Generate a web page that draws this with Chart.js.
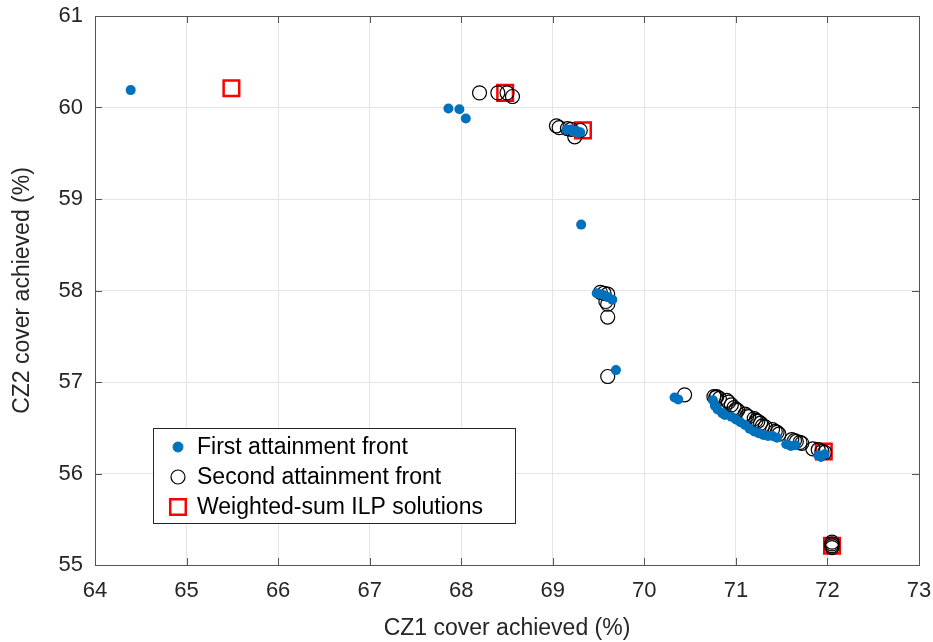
<!DOCTYPE html>
<html>
<head>
<meta charset="utf-8">
<script src="https://cdn.jsdelivr.net/npm/chart.js@4.4.1/dist/chart.umd.min.js"></script>
<style>
  html, body { margin: 0; padding: 0; background: #fff; }
  #wrap { width: 933px; height: 642px; }
</style>
</head>
<body>
<div id="wrap"><canvas id="c" width="933" height="642"></canvas></div>
<script>
// CZ1 / CZ2 cover (%) of each solution set
const firstFrontX = [64.39, 67.86, 67.98, 68.05, 69.15, 69.2, 69.22, 69.25, 69.28, 69.3, 69.31,
  69.48, 69.52, 69.55, 69.6, 69.65, 69.69, 70.33, 70.37,
  70.75, 70.77, 70.8, 70.85, 70.88, 70.95, 71.0, 71.05, 71.1, 71.15, 71.2, 71.25, 71.3, 71.35,
  71.4, 71.45, 71.55, 71.6, 71.65, 71.9, 71.93, 71.97];
const firstFrontY = [60.19, 59.99, 59.98, 59.88, 59.76, 59.76, 59.74, 59.75, 59.72, 59.73, 58.72,
  57.97, 57.96, 57.95, 57.93, 57.9, 57.13, 56.83, 56.81,
  56.8, 56.74, 56.7, 56.66, 56.64, 56.62, 56.59, 56.56, 56.53, 56.49, 56.46, 56.44, 56.42, 56.41,
  56.41, 56.39, 56.32, 56.3, 56.31, 56.2, 56.18, 56.21];

const secondFrontX = [68.2, 68.4, 68.5, 68.56, 69.04, 69.07, 69.16, 69.2, 69.24, 69.3,
  69.52, 69.56, 69.6, 69.58, 69.6, 69.6, 69.6, 70.44,
  70.76, 70.78, 70.79, 70.82, 70.9, 70.92, 70.95, 70.98, 71.0, 71.02, 71.1, 71.12, 71.14,
  71.2, 71.22, 71.24, 71.27, 71.29, 71.32, 71.4, 71.43, 71.45, 71.47,
  71.61, 71.64, 71.66, 71.7, 71.72, 71.84, 71.9, 71.94, 71.97,
  72.05, 72.05, 72.05, 72.05];
const secondFrontY = [60.16, 60.16, 60.16, 60.12, 59.8, 59.78, 59.77, 59.76, 59.68, 59.75,
  57.98, 57.97, 57.96, 57.88, 57.85, 57.71, 57.06, 56.86,
  56.84, 56.83, 56.84, 56.82, 56.8, 56.78, 56.75, 56.72, 56.7, 56.69, 56.65, 56.63, 56.62,
  56.6, 56.58, 56.57, 56.55, 56.52, 56.51, 56.48, 56.46, 56.45, 56.43,
  56.37, 56.36, 56.35, 56.34, 56.33, 56.27, 56.26, 56.24, 56.23,
  55.25, 55.23, 55.21, 55.19];

const ilpX = [65.49, 68.48, 69.33, 71.96, 72.05];
const ilpY = [60.21, 60.16, 59.75, 56.24, 55.21];

const xTicks = [64, 65, 66, 67, 68, 69, 70, 71, 72, 73];
const yTicks = [55, 56, 57, 58, 59, 60, 61];

const legendLabels = ['First attainment front', 'Second attainment front', 'Weighted-sum ILP solutions'];

const toPoints = (xs, ys) => xs.map((x, i) => ({ x: x, y: ys[i] }));

const FONT = '"Liberation Sans", Arial, Helvetica, sans-serif';
const TEXT = '#262626';
const AXIS = '#555555';

// box around the axes, inward ticks and the legend panel
const framePlugin = {
  id: 'frame',
  afterDatasetsDraw(chart) {
    const { ctx, chartArea: a, scales } = chart;
    ctx.save();
    ctx.strokeStyle = AXIS;
    ctx.lineWidth = 1;
    ctx.strokeRect(Math.round(a.left) + 0.5, Math.round(a.top) + 0.5,
      Math.round(a.right - a.left), Math.round(a.bottom - a.top));
    const tl = 7;
    ctx.beginPath();
    xTicks.forEach(v => {
      const px = Math.round(scales.x.getPixelForValue(v)) + 0.5;
      ctx.moveTo(px, a.bottom); ctx.lineTo(px, a.bottom - tl);
      ctx.moveTo(px, a.top); ctx.lineTo(px, a.top + tl);
    });
    yTicks.forEach(v => {
      const py = Math.round(scales.y.getPixelForValue(v)) + 0.5;
      ctx.moveTo(a.left, py); ctx.lineTo(a.left + tl, py);
      ctx.moveTo(a.right, py); ctx.lineTo(a.right - tl, py);
    });
    ctx.stroke();

    // legend panel
    const lx = 153.5, ly = 428.5, lw = 362, lh = 95;
    ctx.fillStyle = '#ffffff';
    ctx.fillRect(lx, ly, lw, lh);
    ctx.strokeStyle = TEXT;
    ctx.strokeRect(lx, ly, lw, lh);
    const rows = [447, 477, 507];
    const mx = 178;
    chart.data.datasets.forEach((ds, i) => {
      const cy = rows[i];
      ctx.beginPath();
      if (ds.pointStyle === 'rect') {
        const s = ds.pointRadius * Math.SQRT1_2;
        ctx.rect(mx - s, cy - s, 2 * s, 2 * s);
      } else {
        ctx.arc(mx, cy, ds.pointRadius, 0, Math.PI * 2);
      }
      if (ds.backgroundColor !== 'rgba(0,0,0,0)') {
        ctx.fillStyle = ds.backgroundColor;
        ctx.fill();
      }
      ctx.lineWidth = ds.borderWidth;
      ctx.strokeStyle = ds.borderColor;
      ctx.stroke();
      ctx.fillStyle = '#000000';
      ctx.font = '23px ' + FONT;
      ctx.textBaseline = 'middle';
      ctx.textAlign = 'left';
      ctx.fillText(legendLabels[i], 197, cy + 1);
    });
    ctx.restore();
  }
};

new Chart(document.getElementById('c'), {
  type: 'scatter',
  data: {
    datasets: [
      {
        label: legendLabels[0],
        data: toPoints(firstFrontX, firstFrontY),
        pointStyle: 'circle',
        pointRadius: 5,
        backgroundColor: '#0072BD',
        borderColor: '#0072BD',
        borderWidth: 0
      },
      {
        label: legendLabels[1],
        data: toPoints(secondFrontX, secondFrontY),
        pointStyle: 'circle',
        pointRadius: 7,
        backgroundColor: 'rgba(0,0,0,0)',
        borderColor: '#000000',
        borderWidth: 1.2
      },
      {
        label: legendLabels[2],
        data: toPoints(ilpX, ilpY),
        pointStyle: 'rect',
        pointRadius: 11,
        backgroundColor: 'rgba(0,0,0,0)',
        borderColor: '#FF0000',
        borderWidth: 2.5
      }
    ]
  },
  options: {
    responsive: false,
    animation: false,
    events: [],
    layout: { padding: { top: 16, right: 14, left: 0, bottom: 0 } },
    plugins: {
      legend: { display: false },
      tooltip: { enabled: false }
    },
    scales: {
      x: {
        type: 'linear',
        min: 64, max: 73,
        afterBuildTicks: s => { s.ticks = xTicks.map(v => ({ value: v })); },
        afterFit: s => { s.height = 77; s.paddingLeft = 0; s.paddingRight = 0; },
        grid: { color: '#e5e5e5', drawTicks: false, lineWidth: 1 },
        border: { display: false },
        ticks: { color: TEXT, font: { family: FONT, size: 22 }, padding: 13 },
        title: {
          display: true,
          text: 'CZ1 cover achieved (%)',
          color: TEXT,
          font: { family: FONT, size: 23 },
          padding: { top: 0, bottom: 0 }
        }
      },
      y: {
        type: 'linear',
        min: 55, max: 61,
        afterBuildTicks: s => { s.ticks = yTicks.map(v => ({ value: v })); },
        afterFit: s => { s.width = 95; s.paddingTop = 0; s.paddingBottom = 0; },
        grid: { color: '#e5e5e5', drawTicks: false, lineWidth: 1 },
        border: { display: false },
        ticks: { color: TEXT, font: { family: FONT, size: 22 }, padding: 12 },
        title: {
          display: true,
          text: 'CZ2 cover achieved (%)',
          color: TEXT,
          font: { family: FONT, size: 23 },
          padding: { top: 9, bottom: 0 }
        }
      }
    }
  },
  plugins: [framePlugin]
});
</script>
</body>
</html>
